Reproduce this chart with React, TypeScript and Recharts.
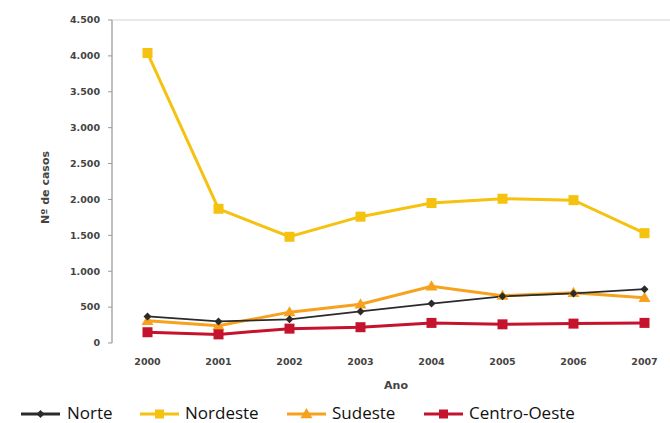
import React from 'react';
import { LineChart, Line, XAxis, YAxis, ReferenceLine, Legend } from 'recharts';

const years = ['2000', '2001', '2002', '2003', '2004', '2005', '2006', '2007'];
const norte = [370, 300, 330, 440, 550, 650, 690, 750];
const nordeste = [4040, 1870, 1480, 1760, 1950, 2010, 1990, 1530];
const sudeste = [310, 240, 430, 540, 790, 660, 700, 630];
const centroOeste = [150, 120, 200, 220, 280, 260, 270, 280];
const yTicks = [0, 500, 1000, 1500, 2000, 2500, 3000, 3500, 4000, 4500];
const gapTicks = [0.5, 1.5, 2.5, 3.5, 4.5, 5.5, 6.5];

const data = years.map((y, i) => ({
  x: i,
  year: y,
  norte: norte[i],
  nordeste: nordeste[i],
  sudeste: sudeste[i],
  centroOeste: centroOeste[i],
}));

const C_NORTE = '#2b2b2b';
const C_NORDESTE = '#F4C20F';
const C_SUDESTE = '#F7A21E';
const C_CO = '#C5132E';

const fmt = (v: number) => String(v).replace(/\B(?=(\d{3})+(?!\d))/g, '.');

const Diamond = (props: any) => {
  const { cx, cy, fill } = props;
  if (cx == null || cy == null) return null;
  const r = 4;
  return <path d={`M${cx},${cy - r}L${cx + r},${cy}L${cx},${cy + r}L${cx - r},${cy}Z`} fill={fill} />;
};
const Square = (props: any) => {
  const { cx, cy, fill, s } = props;
  if (cx == null || cy == null) return null;
  const h = (s || 10) / 2;
  return <rect x={cx - h} y={cy - h} width={h * 2} height={h * 2} fill={fill} />;
};
const Triangle = (props: any) => {
  const { cx, cy, fill } = props;
  if (cx == null || cy == null) return null;
  const r = 6;
  return <path d={`M${cx},${cy - r}L${cx + r},${cy + r * 0.7}L${cx - r},${cy + r * 0.7}Z`} fill={fill} />;
};

const legendItems = [
  { name: 'Norte', color: C_NORTE, marker: 'diamond', lx: 21, tx: 67 },
  { name: 'Nordeste', color: C_NORDESTE, marker: 'square', lx: 140, tx: 185 },
  { name: 'Sudeste', color: C_SUDESTE, marker: 'triangle', lx: 287, tx: 332 },
  { name: 'Centro-Oeste', color: C_CO, marker: 'square', lx: 424, tx: 469 },
];

const LegendContent = () => (
  <div style={{ position: 'relative', width: 700, height: 20 }}>
    {legendItems.map((it) => (
      <React.Fragment key={it.name}>
        <svg style={{ position: 'absolute', left: it.lx, top: 1, overflow: 'visible' }} width={40} height={18}>
          <line x1={0} y1={10} x2={39} y2={10} stroke={it.color} strokeWidth={3} />
          {it.marker === 'diamond' && <Diamond cx={19.5} cy={10} fill={it.color} />}
          {it.marker === 'square' && <Square cx={19.5} cy={10} fill={it.color} s={9} />}
          {it.marker === 'triangle' && <Triangle cx={19.5} cy={10} fill={it.color} />}
        </svg>
        <span
          style={{
            position: 'absolute',
            left: it.tx,
            top: 0,
            fontFamily: 'Open Sans, sans-serif',
            fontSize: 17,
            lineHeight: '20px',
            color: '#111',
            whiteSpace: 'nowrap',
          }}
        >
          {it.name}
        </span>
      </React.Fragment>
    ))}
  </div>
);

export default function App() {
  return (
    <div style={{ position: 'absolute', left: 0, top: 0, width: 670, height: 423, overflow: 'hidden', background: '#fff' }}>
      <LineChart width={700} height={423} data={data} margin={{ top: 20, right: 20, bottom: 30, left: 42 }}>
        <ReferenceLine y={4500} stroke="#e2e2e2" strokeWidth={1.5} />
        <XAxis
          xAxisId="tk"
          dataKey="x"
          type="number"
          domain={[-0.5, 7.5]}
          ticks={gapTicks}
          tickFormatter={() => ''}
          tickSize={4}
          tickLine={{ stroke: '#888' }}
          axisLine={{ stroke: '#aaa', strokeWidth: 1.5 }}
          height={0}
          allowDataOverflow
        />
        <XAxis
          xAxisId="lbl"
          dataKey="x"
          type="number"
          domain={[-0.5, 7.5]}
          ticks={[0, 1, 2, 3, 4, 5, 6, 7]}
          tickFormatter={(i: number) => years[i]}
          tickLine={false}
          axisLine={false}
          tickSize={0}
          tickMargin={15}
          height={50}
          tick={{ fontFamily: 'DejaVu Sans', fontSize: 9.5, fontWeight: 'bold', fill: '#444' }}
          label={{ value: 'Ano', position: 'insideBottom', offset: 4, style: { fontFamily: 'DejaVu Sans', fontSize: 11, fontWeight: 'bold', fill: '#444' } }}
          allowDataOverflow
        />
        <YAxis
          domain={[0, 4500]}
          ticks={yTicks}
          tickFormatter={fmt}
          width={70}
          tickSize={4}
          tickMargin={8}
          tickLine={{ stroke: '#999' }}
          axisLine={{ stroke: '#aaa', strokeWidth: 1.5 }}
          tick={{ fontFamily: 'DejaVu Sans', fontSize: 9.5, fontWeight: 'bold', fill: '#444' }}
          label={{ value: 'Nº de casos', angle: -90, position: 'insideLeft', offset: 3, dy: 6, style: { textAnchor: 'middle', fontFamily: 'DejaVu Sans', fontSize: 11, fontWeight: 'bold', fill: '#444' } }}
          interval={0}
        />
        <Legend verticalAlign="middle" content={<LegendContent />} wrapperStyle={{ position: 'absolute', left: 0, top: 403, width: 700, height: 20 }} />
        <Line xAxisId="lbl" dataKey="nordeste" name="Nordeste" stroke={C_NORDESTE} strokeWidth={3} dot={<Square fill={C_NORDESTE} s={10} />} isAnimationActive={false} />
        <Line xAxisId="lbl" dataKey="sudeste" name="Sudeste" stroke={C_SUDESTE} strokeWidth={3} dot={<Triangle fill={C_SUDESTE} />} isAnimationActive={false} />
        <Line xAxisId="lbl" dataKey="norte" name="Norte" stroke={C_NORTE} strokeWidth={1.8} dot={<Diamond fill={C_NORTE} />} isAnimationActive={false} />
        <Line xAxisId="lbl" dataKey="centroOeste" name="Centro-Oeste" stroke={C_CO} strokeWidth={3} dot={<Square fill={C_CO} s={10} />} isAnimationActive={false} />
      </LineChart>
    </div>
  );
}
